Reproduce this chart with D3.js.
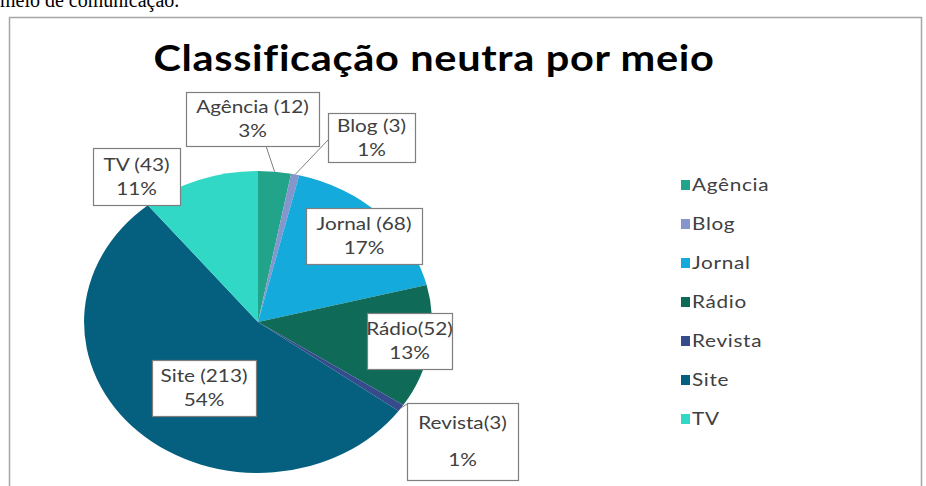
<!DOCTYPE html>
<html>
<head>
<meta charset="utf-8">
<script src="https://cdn.jsdelivr.net/npm/d3@7"></script>
<style>
  body { margin: 0; background: #fff; }
  svg { display: block; }
</style>
</head>
<body>
<svg id="chart"></svg>
<script>
"use strict";

// data
const categories = ["Agência", "Blog", "Jornal", "Rádio", "Revista", "Site", "TV"];
const counts = [12, 3, 68, 52, 3, 213, 43];
const pointNames = ["Agência (12)", "Blog (3)", "Jornal (68)", "Rádio(52)", "Revista(3)", "Site (213)", "TV (43)"];
const sliceColors = ["#22a48b", "#8496cb", "#14aadc", "#0f6b58", "#364b8c", "#05607f", "#31d8c6"];

const titleText = "Classificação neutra por meio";
const captionText = "meio de comunicação.";

// layout
const width = 926, height = 486;
const cx = 258, cy = 322, r = 151;
const sx = 1.152; // the picture is stretched sideways

// callout boxes, screen coords
const labelBoxes = {
  "Agência": {x: 186, y: 92, w: 133, h: 54, gap: 24, anchor: [266, 146]},
  "Blog":    {x: 328, y: 113, w: 87, h: 49, gap: 24, anchor: [328, 140]},
  "Jornal":  {x: 306, y: 208, w: 116, h: 56, gap: 24},
  "Rádio":   {x: 367, y: 313, w: 85, h: 56, gap: 24},
  "Revista": {x: 407, y: 403, w: 111, h: 77, gap: 37, anchor: [407, 404]},
  "Site":    {x: 152, y: 360, w: 104, h: 56, gap: 24},
  "TV":      {x: 93, y: 148, w: 87, h: 57, gap: 24}
};

const svg = d3.select("#chart")
  .attr("width", width)
  .attr("height", height)
  .style("font-family", "Lato, 'Open Sans', sans-serif");

svg.append("rect").attr("width", width).attr("height", height).attr("fill", "#fff");

// bit of the document text above the chart
svg.append("text")
  .attr("x", 0).attr("y", 7)
  .style("font-family", "'Liberation Serif', serif")
  .style("font-size", "20px")
  .attr("fill", "#000")
  .text(captionText);

// chart frame
svg.append("rect")
  .attr("x", 9.5).attr("y", 17.5)
  .attr("width", 912).attr("height", 520)
  .attr("fill", "#fff")
  .attr("stroke", "#a6a6a6")
  .attr("stroke-width", 1.5);

svg.append("text")
  .attr("transform", `translate(434,71) scale(${sx},1)`)
  .attr("text-anchor", "middle")
  .style("font-size", "36px")
  .style("font-weight", "bold")
  .style("letter-spacing", "0.6px")
  .attr("fill", "#000")
  .text(titleText);

const data = categories.map((c, i) => ({name: c, value: counts[i], label: pointNames[i], color: sliceColors[i]}));
const total = d3.sum(counts);
const pct = d3.format(".0%");

const pie = d3.pie().sort(null).value(d => d.value).startAngle(0);
const arcs = pie(data);
const arc = d3.arc().innerRadius(0).outerRadius(r);

const pieG = svg.append("g")
  .attr("transform", `translate(${cx},${cy}) scale(${sx},1)`);

pieG.selectAll("path")
  .data(arcs)
  .join("path")
    .attr("fill", d => d.data.color)
    .attr("d", arc);

// point on the rim at mid angle, screen coords
function rimPoint(d) {
  const a = (d.startAngle + d.endAngle) / 2;
  return [cx + Math.sin(a) * r * sx, cy - Math.cos(a) * r];
}

// leader lines
svg.selectAll("line.leader")
  .data(arcs.filter(d => labelBoxes[d.data.name].anchor))
  .join("line")
    .attr("class", "leader")
    .attr("x1", d => labelBoxes[d.data.name].anchor[0])
    .attr("y1", d => labelBoxes[d.data.name].anchor[1])
    .attr("x2", d => rimPoint(d)[0])
    .attr("y2", d => rimPoint(d)[1])
    .attr("stroke", "#7f7f7f")
    .attr("stroke-width", 1);

const labels = svg.selectAll("g.lbl")
  .data(arcs)
  .join("g")
    .attr("class", "lbl");

labels.append("rect")
  .attr("x", d => labelBoxes[d.data.name].x + 0.5)
  .attr("y", d => labelBoxes[d.data.name].y + 0.5)
  .attr("width", d => labelBoxes[d.data.name].w)
  .attr("height", d => labelBoxes[d.data.name].h)
  .attr("fill", "#fff")
  .attr("stroke", "#7f7f7f")
  .attr("stroke-width", 1.2);

labels.each(function(d) {
  const b = labelBoxes[d.data.name];
  const mx = b.x + b.w / 2, my = b.y + b.h / 2;
  const g = d3.select(this);
  [d.data.label, pct(d.data.value / total)].forEach((t, i) => {
    g.append("text")
      .attr("transform", `translate(${mx},${my + (i - 0.5) * b.gap + 6}) scale(${sx},1)`)
      .attr("text-anchor", "middle")
      .style("font-size", "18px")
      .attr("fill", "#404040")
      .text(t);
  });
});

// legend
const legend = svg.append("g").attr("transform", "translate(681,185)");
const items = legend.selectAll("g")
  .data(data)
  .join("g")
    .attr("transform", (d, i) => `translate(0,${i * 39})`);

items.append("rect")
  .attr("x", 0).attr("y", -5)
  .attr("width", 9).attr("height", 10)
  .attr("fill", d => d.color);

items.append("text")
  .attr("transform", `translate(11,6) scale(${sx},1)`)
  .style("font-size", "18px")
  .style("letter-spacing", "0.6px")
  .attr("fill", "#404040")
  .text(d => d.name);
</script>
</body>
</html>
